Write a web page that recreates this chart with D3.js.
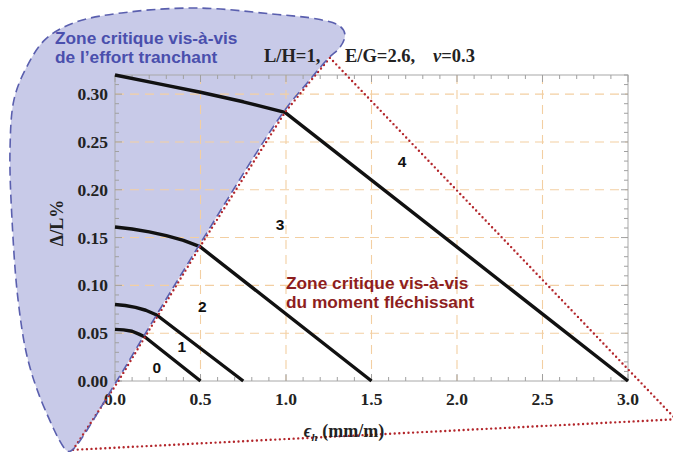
<!DOCTYPE html>
<html><head><meta charset="utf-8">
<script src="https://cdn.jsdelivr.net/npm/d3@7"></script>
<style>
html,body{margin:0;padding:0;background:#fff;}
svg{display:block;}
</style></head>
<body>
<svg id="chart" width="673" height="452"></svg>
<script>
// ---------- data ----------
const xTicks = [0.0, 0.5, 1.0, 1.5, 2.0, 2.5, 3.0];
const yTicks = [0.00, 0.05, 0.10, 0.15, 0.20, 0.25, 0.30];
const xDomain = [0, 3.0];
const yDomain = [0, 0.32];

// curves [eps_h, Delta/L%]
const curve0 = [[0, 0.054], [0.05, 0.0535], [0.1, 0.052], [0.14, 0.049], [0.175, 0.046], [0.5, 0]];
const curve1 = [[0, 0.080], [0.06, 0.079], [0.12, 0.077], [0.18, 0.074], [0.244, 0.069], [0.75, 0]];
const curve2 = [[0, 0.161], [0.1, 0.159], [0.2, 0.156], [0.3, 0.152], [0.4, 0.147], [0.497, 0.1405], [1.5, 0]];
const curve3 = [[0, 0.320], [0.25, 0.311], [0.5, 0.302], [0.75, 0.292], [0.994, 0.281], [3.0, 0]];

// zone number labels [x, y, text]
const zoneLabels = [[0.245, 0.008, "0"], [0.39, 0.030, "1"], [0.51, 0.072, "2"], [0.966, 0.158, "3"], [1.678, 0.224, "4"]];

// bending-moment critical zone (dotted triangle), data coords
const momentZone = [[-0.246, -0.072], [0.02, 0.0], [0.175, 0.046], [0.497, 0.1405], [0.994, 0.281], [1.14, 0.313], [1.257, 0.338], [3.28, -0.040], [-0.246, -0.072]];

// shear critical zone (blue blob), data coords
const shearZone = [[-0.281, -0.073], [-0.409, -0.030], [-0.509, 0.022], [-0.567, 0.085], [-0.602, 0.168], [-0.614, 0.242],
  [-0.591, 0.294], [-0.526, 0.325], [-0.409, 0.357], [-0.234, 0.375], [0.088, 0.386], [0.497, 0.390], [0.906, 0.384],
  [1.199, 0.378], [1.316, 0.371], [1.345, 0.362], [1.316, 0.349], [1.25, 0.338], [1.13, 0.313], [0.984, 0.281],
  [0.487, 0.1405], [0.165, 0.046], [0.01, 0.0], [-0.256, -0.073]];

// ---------- layout ----------
const svg = d3.select("#chart");
const L = 115, R = 628, T = 75, B = 381;
const x = d3.scaleLinear().domain(xDomain).range([L, R]);
const y = d3.scaleLinear().domain(yDomain).range([B, T]);

// shear zone fill
const closedLine = d3.line().x(d => x(d[0])).y(d => y(d[1])).curve(d3.curveCatmullRomClosed.alpha(0.5));
svg.append("path").attr("d", closedLine(shearZone))
  .attr("fill", "#c8cae8").attr("stroke", "none");

// grid
const gridColor = "#f3cfa2";
svg.append("g").selectAll("line").data(xTicks.filter(v => v > 0 && v < 3)).join("line")
  .attr("x1", d => x(d)).attr("x2", d => x(d)).attr("y1", T).attr("y2", B)
  .attr("stroke", gridColor).attr("stroke-width", 1.1).attr("stroke-dasharray", "9,6");
svg.append("g").selectAll("line").data(yTicks.filter(v => v > 0)).join("line")
  .attr("x1", L).attr("x2", R).attr("y1", d => y(d)).attr("y2", d => y(d))
  .attr("stroke", gridColor).attr("stroke-width", 1.1).attr("stroke-dasharray", "9,6");

// frame
svg.append("rect").attr("x", L).attr("y", T).attr("width", R - L).attr("height", B - T)
  .attr("fill", "none").attr("stroke", "#a8a8a8").attr("stroke-width", 1);

// ticks (inward, on all four sides)
const tickColor = "#a0a0a0";
const xMinor = d3.range(0, 3.0001, 0.1);
const yMinor = d3.range(0, 0.32001, 0.01);
const tg = svg.append("g").attr("stroke", tickColor).attr("stroke-width", 1);
xMinor.forEach((v, i) => {
  const major = i % 5 === 0;
  const len = major ? 7 : 4;
  tg.append("line").attr("x1", x(v)).attr("x2", x(v)).attr("y1", B).attr("y2", B - len);
  tg.append("line").attr("x1", x(v)).attr("x2", x(v)).attr("y1", T).attr("y2", T + len);
});
yMinor.forEach((v, i) => {
  const major = i % 5 === 0;
  const len = major ? 7 : 4;
  tg.append("line").attr("x1", L).attr("x2", L + len).attr("y1", y(v)).attr("y2", y(v));
  tg.append("line").attr("x1", R).attr("x2", R - len).attr("y1", y(v)).attr("y2", y(v));
});

// tick labels
const serif = "'Liberation Serif','Times New Roman',serif";
svg.append("g").selectAll("text").data(xTicks).join("text")
  .attr("x", d => x(d)).attr("y", 405).attr("text-anchor", "middle")
  .attr("font-family", serif).attr("font-weight", "bold").attr("font-size", 17.5).attr("fill", "#222")
  .text(d => d.toFixed(1));
svg.append("g").selectAll("text").data(yTicks).join("text")
  .attr("x", 108).attr("y", d => y(d) + 6).attr("text-anchor", "end")
  .attr("font-family", serif).attr("font-weight", "bold").attr("font-size", 17.5).attr("fill", "#222")
  .text(d => d.toFixed(2));

// curves
const line = d3.line().x(d => x(d[0])).y(d => y(d[1]));
[curve0, curve1, curve2, curve3].forEach(c => {
  svg.append("path").attr("d", line(c)).attr("fill", "none")
    .attr("stroke", "#111").attr("stroke-width", 3.4).attr("stroke-linejoin", "round");
});

// moment zone dotted triangle
svg.append("path").attr("d", line(momentZone)).attr("fill", "none")
  .attr("stroke", "#b3262b").attr("stroke-width", 2.4).attr("stroke-linecap", "round")
  .attr("stroke-dasharray", "0,4.6");

// shear zone dashed outline
svg.append("path").attr("d", closedLine(shearZone))
  .attr("fill", "none").attr("stroke", "#5a5fae").attr("stroke-width", 1.6).attr("stroke-dasharray", "9,5");

// zone number labels
const sans = "'Liberation Sans',Arial,Helvetica,sans-serif";
svg.append("g").selectAll("text").data(zoneLabels).join("text")
  .attr("x", d => x(d[0])).attr("y", d => y(d[1])).attr("text-anchor", "middle")
  .attr("font-family", sans).attr("font-weight", "bold").attr("font-size", 15.5).attr("fill", "#111")
  .text(d => d[2]);

// blue annotation
const blue = svg.append("text").attr("font-family", sans).attr("font-weight", "bold")
  .attr("font-size", 17.3).attr("fill", "#4a4fad");
blue.append("tspan").attr("x", 55).attr("y", 44).text("Zone critique vis-à-vis");
blue.append("tspan").attr("x", 55).attr("y", 63).text("de l’effort tranchant");

// red annotation
const red = svg.append("text").attr("font-family", sans).attr("font-weight", "bold")
  .attr("font-size", 17.3).attr("fill", "#8e1e1e");
red.append("tspan").attr("x", 286).attr("y", 289).text("Zone critique vis-à-vis");
red.append("tspan").attr("x", 286).attr("y", 308).text("du moment fléchissant");

// parameters title
const ttlStyle = t => t.attr("y", 62).attr("font-family", serif).attr("font-weight", "bold")
  .attr("font-size", 18.5).attr("fill", "#222");
ttlStyle(svg.append("text").attr("x", 264)).text("L/H=1,");
ttlStyle(svg.append("text").attr("x", 345)).text("E/G=2.6,");
const nu = ttlStyle(svg.append("text").attr("x", 433));
nu.append("tspan").attr("font-style", "italic").text("ν");
nu.append("tspan").text("=0.3");

// axis labels
svg.append("text").attr("transform", "translate(63,223) rotate(-90)").attr("text-anchor", "middle")
  .attr("font-family", serif).attr("font-weight", "bold").attr("font-size", 18).attr("fill", "#222")
  .text("Δ/L%");
const xl = svg.append("text").attr("x", 344).attr("y", 437).attr("text-anchor", "middle")
  .attr("font-family", serif).attr("font-weight", "bold").attr("font-size", 18).attr("fill", "#222");
xl.append("tspan").attr("font-style", "italic").text("ϵ");
xl.append("tspan").attr("font-style", "italic").attr("font-size", 11).attr("dy", 4).text("h");
xl.append("tspan").attr("dy", -4).text(" (mm/m)");
</script>
</body></html>
